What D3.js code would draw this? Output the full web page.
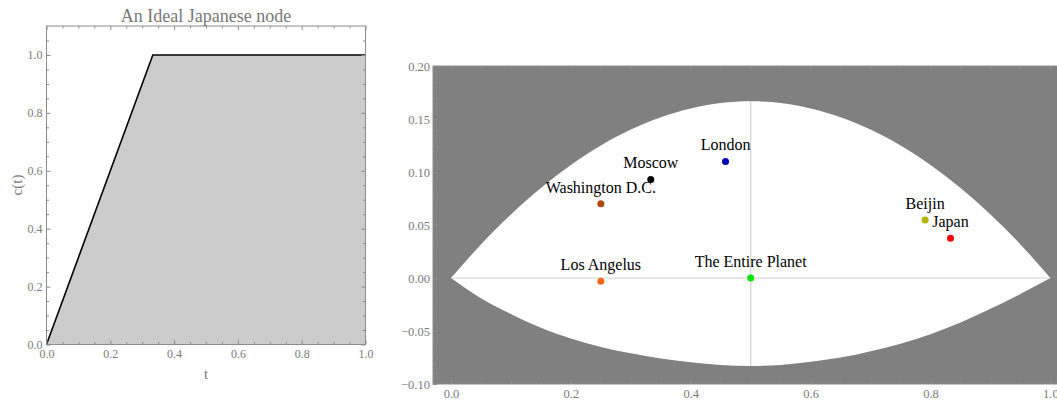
<!DOCTYPE html>
<html>
<head>
<meta charset="utf-8">
<script src="https://cdn.jsdelivr.net/npm/d3@7"></script>
<style>
  html, body { margin: 0; padding: 0; background: #fff; }
  svg { display: block; font-family: 'Liberation Serif', 'Times New Roman', serif; }
</style>
</head>
<body>
<div id="chart"></div>
<script>
// left panel: c(t) for an ideal Japanese node
const nodeT = [0, 0.3333, 1];
const nodeC = [0, 1, 1];
const leftXTicks = [0, 0.2, 0.4, 0.6, 0.8, 1.0];
const leftYTicks = [0, 0.2, 0.4, 0.6, 0.8, 1.0];

// right panel: lens boundary
const boundaryX = [0, 0.05, 0.1, 0.15, 0.2, 0.25, 0.3, 0.35, 0.4, 0.45, 0.5,
  0.55, 0.6, 0.65, 0.7, 0.75, 0.8, 0.85, 0.9, 0.95, 1];
const upperY = [0, 0.0317, 0.06, 0.085, 0.1067, 0.125, 0.14, 0.1517, 0.16, 0.165, 0.1667,
  0.165, 0.16, 0.1517, 0.14, 0.125, 0.1067, 0.085, 0.06, 0.0317, 0];
const lowerY = [0, -0.019, -0.034, -0.047, -0.057, -0.065, -0.071, -0.076, -0.0795, -0.082, -0.083,
  -0.082, -0.079, -0.075, -0.069, -0.062, -0.053, -0.042, -0.029, -0.015, 0];

const cityNames = ['Los Angelus', 'The Entire Planet', 'Washington D.C.', 'Moscow', 'London', 'Beijin', 'Japan'];
const cityX = [0.25, 0.5, 0.25, 0.3333, 0.458, 0.791, 0.8333];
const cityY = [-0.003, 0.0, 0.07, 0.093, 0.11, 0.0547, 0.0374];
const cityColors = ['#ff661a', '#00e600', '#b3470d', '#000000', '#0000b3', '#b3b300', '#ff0000'];

const rightXTicks = [0, 0.2, 0.4, 0.6, 0.8, 1.0];
const rightYTicks = [-0.1, -0.05, 0, 0.05, 0.1, 0.15, 0.2];

const width = 1057;
const height = 400;
const frameColor = '#8c8c8c';
const labelColor = '#7a7a7a';

const svg = d3
  .select('#chart')
  .append('svg')
  .attr('width', width)
  .attr('height', height);

svg.append('rect').attr('width', width).attr('height', height).attr('fill', '#fff');

// draws a Mathematica-style frame with inward ticks on all four sides
const drawFrame = (g, x, y, o) => {
  const [x0, x1] = x.range();
  const [y0, y1] = y.range();
  const sides = [
    { axis: d3.axisBottom, scale: x, at: `translate(0, ${y0})`, major: o.xMajor, minor: o.xMinor, fmt: o.xFmt, pad: o.xPad },
    { axis: d3.axisTop, scale: x, at: `translate(0, ${y1})`, major: o.xMajor, minor: o.xMinor },
    { axis: d3.axisLeft, scale: y, at: `translate(${x0}, 0)`, major: o.yMajor, minor: o.yMinor, fmt: o.yFmt, pad: o.yPad },
    { axis: d3.axisRight, scale: y, at: `translate(${x1}, 0)`, major: o.yMajor, minor: o.yMinor },
  ];
  sides.forEach(s => {
    const minorG = g.append('g').attr('transform', s.at)
      .call(s.axis(s.scale).tickValues(s.minor).tickSize(-o.minorLen).tickFormat(''));
    minorG.select('.domain').remove();
    minorG.selectAll('line').style('stroke', frameColor);

    const majorG = g.append('g').attr('transform', s.at)
      .call(s.axis(s.scale)
        .tickValues(s.major)
        .tickSize(-o.majorLen)
        .tickPadding(s.pad || 0)
        .tickFormat(s.fmt || ''));
    majorG.select('.domain').remove();
    majorG.selectAll('line').style('stroke', frameColor);
    majorG.selectAll('text')
      .style('font-family', "'Liberation Serif', serif")
      .style('font-size', o.fontSize)
      .attr('fill', labelColor);
  });

  g.append('rect')
    .attr('x', x0)
    .attr('y', y1)
    .attr('width', x1 - x0)
    .attr('height', y0 - y1)
    .attr('fill', 'none')
    .attr('stroke', frameColor)
    .attr('stroke-width', 1);
};

// ---- left panel
const lx = d3.scaleLinear().domain([0, 1]).range([46.5, 365.5]);
const ly = d3.scaleLinear().domain([0, 1.1]).range([344.5, 26]);
const left = svg.append('g');

const nodeData = nodeT.map((t, i) => ({ t, c: nodeC[i] }));

left.append('path')
  .datum(nodeData)
  .attr('fill', '#cccccc')
  .attr('d', d3.area().x(d => lx(d.t)).y0(ly(0)).y1(d => ly(d.c)));

left.append('path')
  .datum(nodeData)
  .attr('fill', 'none')
  .attr('stroke', '#000')
  .attr('stroke-width', 1.6)
  .attr('d', d3.line().x(d => lx(d.t)).y(d => ly(d.c)));

drawFrame(left, lx, ly, {
  xMajor: leftXTicks,
  xMinor: d3.range(1, 20).map(i => i * 0.05).filter(v => Math.abs(v * 5 - Math.round(v * 5)) > 1e-6),
  yMajor: leftYTicks,
  yMinor: d3.range(1, 22).map(i => i * 0.05).filter(v => Math.abs(v * 5 - Math.round(v * 5)) > 1e-6),
  xFmt: d3.format('.1f'),
  yFmt: d3.format('.1f'),
  xPad: 5,
  yPad: 4,
  majorLen: 4,
  minorLen: 2.5,
  fontSize: '12px',
});

left.append('text')
  .attr('x', 206)
  .attr('y', 21.5)
  .attr('text-anchor', 'middle')
  .style('font-size', '18px')
  .attr('fill', '#777')
  .text('An Ideal Japanese node');

left.append('text')
  .attr('transform', 'translate(22, 185) rotate(-90)')
  .attr('text-anchor', 'middle')
  .style('font-size', '15px')
  .attr('fill', '#777')
  .text('c(t)');

left.append('text')
  .attr('x', 206)
  .attr('y', 379)
  .attr('text-anchor', 'middle')
  .style('font-size', '15px')
  .attr('fill', '#777')
  .text('t');

// ---- right panel
const rx = d3.scaleLinear().domain([-0.03, 1.03]).range([433, 1068.4]);
const ry = d3.scaleLinear().domain([-0.1, 0.2]).range([384, 66]);
const right = svg.append('g');

right.append('rect')
  .attr('x', rx(-0.03))
  .attr('y', ry(0.2))
  .attr('width', rx(1.03) - rx(-0.03))
  .attr('height', ry(-0.1) - ry(0.2))
  .attr('fill', '#808080');

const lens = boundaryX.map((bx, i) => ({ x: bx, lo: lowerY[i], hi: upperY[i] }));

right.append('path')
  .datum(lens)
  .attr('fill', '#fff')
  .attr('d', d3.area()
    .curve(d3.curveMonotoneX)
    .x(d => rx(d.x))
    .y0(d => ry(d.lo))
    .y1(d => ry(d.hi)));

const mid = lens.find(d => d.x === 0.5);
right.append('line')
  .attr('x1', rx(0)).attr('x2', rx(1))
  .attr('y1', ry(0)).attr('y2', ry(0))
  .attr('stroke', '#d0d0d0')
  .attr('stroke-width', 1.2);
right.append('line')
  .attr('x1', rx(0.5)).attr('x2', rx(0.5))
  .attr('y1', ry(mid.lo)).attr('y2', ry(mid.hi))
  .attr('stroke', '#d0d0d0')
  .attr('stroke-width', 1.2);

const cities = cityNames.map((name, i) => ({ name, x: cityX[i], y: cityY[i], color: cityColors[i] }));

right.selectAll('circle.city')
  .data(cities)
  .enter()
  .append('circle')
  .attr('class', 'city')
  .attr('cx', d => rx(d.x))
  .attr('cy', d => ry(d.y))
  .attr('r', 3.5)
  .attr('fill', d => d.color);

right.selectAll('text.city')
  .data(cities)
  .enter()
  .append('text')
  .attr('class', 'city')
  .attr('x', d => rx(d.x))
  .attr('y', d => ry(d.y) - 11)
  .attr('text-anchor', 'middle')
  .style('font-size', '16px')
  .attr('fill', '#000')
  .text(d => d.name);

drawFrame(right, rx, ry, {
  xMajor: rightXTicks,
  xMinor: d3.range(1, 21).map(i => i * 0.05).filter(v => Math.abs(v * 5 - Math.round(v * 5)) > 1e-6),
  yMajor: rightYTicks,
  yMinor: d3.range(-9, 20).map(i => i * 0.01).filter(v => Math.abs(v * 20 - Math.round(v * 20)) > 1e-6),
  xFmt: d3.format('.1f'),
  yFmt: d3.format('.2f'),
  xPad: 5,
  yPad: 3,
  majorLen: 4,
  minorLen: 2.5,
  fontSize: '12.5px',
});
</script>
</body>
</html>
